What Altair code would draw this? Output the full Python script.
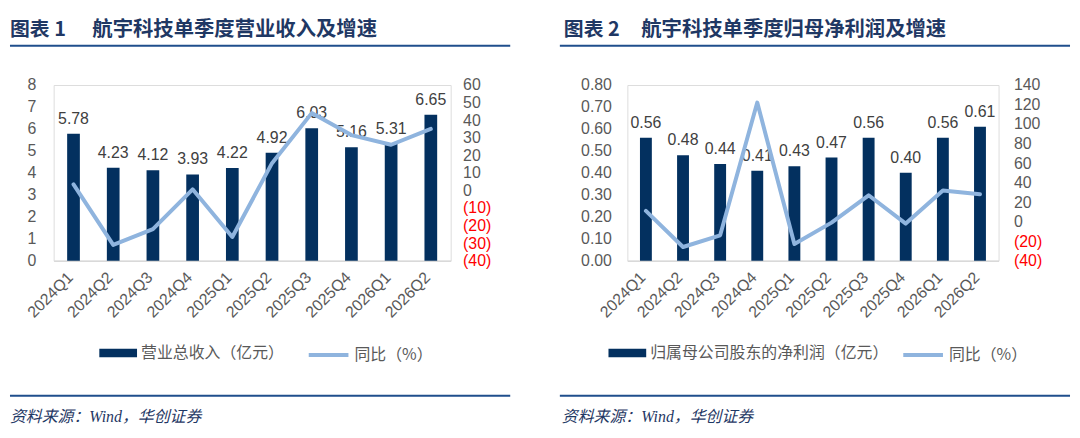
import altair as alt
import pandas as pd

quarters = ["2024Q1", "2024Q2", "2024Q3", "2024Q4", "2025Q1",
            "2025Q2", "2025Q3", "2025Q4", "2026Q1", "2026Q2"]
revenue = [5.78, 4.23, 4.12, 3.93, 4.22, 4.92, 6.03, 5.16, 5.31, 6.65]
revenue_yoy = [3.4, -31.0, -22.0, 0.6, -26.5, 15.5, 44.0, 31.5, 26.0, 35.0]
profit = [0.56, 0.48, 0.44, 0.41, 0.43, 0.47, 0.56, 0.40, 0.56, 0.61]
profit_yoy = [11.0, -26.0, -14.0, 122.0, -23.0, -1.0, 27.0, -2.0, 32.0, 28.0]

rev_ticks = [0, 1, 2, 3, 4, 5, 6, 7, 8]
rev_yoy_ticks = [-40, -30, -20, -10, 0, 10, 20, 30, 40, 50, 60]
profit_ticks = [0.0, 0.1, 0.2, 0.3, 0.4, 0.5, 0.6, 0.7, 0.8]
profit_yoy_ticks = [-40, -20, 0, 20, 40, 60, 80, 100, 120, 140]

NAVY = "#03305F"
LIGHT = "#8FB4DE"
GRAY = "#595959"
TITLE_C = "#1F3864"
RULE_C = "#1F4E8C"
CJK = "Noto Sans CJK SC"
NUM = "Liberation Sans"


def panel(values, yoy, ticks, yoy_ticks, fmt, axis_fmt, bar_name, no_text, title_text,
          width, g):
    df = pd.DataFrame({"q": quarters, "v": values, "g": yoy,
                       "lab": [fmt.format(v) for v in values]})
    base = alt.Chart(df)
    x = alt.X("q:N", sort=quarters, title=None,
              scale=alt.Scale(paddingInner=0.68, paddingOuter=0.34),
              axis=alt.Axis(labelAngle=-45, labelAlign="right", labelBaseline="middle",
                            labelFontSize=16, labelFont=NUM, labelColor=GRAY,
                            domainColor="#D9D9D9", domainWidth=1.5, ticks=False,
                            tickSize=0, labelPadding=14, labelOffset=-3, grid=False))
    ydom = [ticks[0], ticks[-1]]
    yscale = alt.Scale(domain=ydom, nice=False, zero=True)

    bars = base.mark_bar().encode(
        x=x,
        y=alt.Y("v:Q", title=None, scale=yscale,
                axis=alt.Axis(orient="left", values=ticks, format=axis_fmt, grid=False,
                              domain=False, ticks=False, tickSize=0, labelPadding=g["lpad"],
                              labelFont=NUM, labelFontSize=16, labelColor=GRAY)),
        color=alt.Color("s:N", scale=alt.Scale(domain=[bar_name], range=[NAVY]),
                        legend=alt.Legend(orient="none", legendX=g["lx1"], legendY=g["ly"] - 19,
                                          title=None, padding=0, labelLimit=0,
                                          symbolType="M-1,-0.22H1V0.22H-1Z", symbolSize=1444,
                                          symbolStrokeWidth=0, labelFont=CJK,
                                          labelFontSize=16, labelColor=GRAY, labelOffset=4)),
    ).transform_calculate(s="'" + bar_name + "'")

    labels = base.mark_text(baseline="bottom", dy=-7, font=NUM, fontSize=16,
                            color="#404040").encode(
        x=x, y=alt.Y("v:Q", scale=yscale, axis=None), text="lab:N")

    yoy_name = "同比（%）"
    line = base.mark_line(strokeWidth=4, strokeJoin="round", strokeCap="round").encode(
        x=x,
        y=alt.Y("g:Q", title=None,
                scale=alt.Scale(domain=[yoy_ticks[0], yoy_ticks[-1]], nice=False, zero=False),
                axis=alt.Axis(orient="right", values=yoy_ticks, grid=False, domain=False,
                              ticks=False, tickSize=0, labelPadding=g["rpad"],
                              labelFont=NUM, labelFontSize=16,
                              labelExpr="datum.value < 0 ? '(' + (-datum.value) + ')' : datum.label",
                              labelColor={"condition": {"test": "datum.value < 0",
                                                        "value": "#FF0000"},
                                          "value": GRAY})),
        color=alt.Color("s2:N", scale=alt.Scale(domain=[yoy_name], range=[LIGHT]),
                        legend=alt.Legend(orient="none", legendX=g["lx2"], legendY=g["ly"] - 20,
                                          title=None, padding=0, labelLimit=0,
                                          symbolType="stroke",
                                          symbolSize=1600, symbolStrokeWidth=4,
                                          labelFont=CJK, labelFontSize=16, labelColor=GRAY,
                                          labelOffset=4)),
    ).transform_calculate(s2="'" + yoy_name + "'")

    one = alt.Data(values=[{"a": 1}])
    top_rule = alt.Chart(one).mark_rule(color=RULE_C, strokeWidth=2).encode(
        x=alt.value(g["rx1"]), x2=alt.value(g["rx2"]), y=alt.value(-39.5))
    bottom_rule = alt.Chart(one).mark_rule(color=RULE_C, strokeWidth=2).encode(
        x=alt.value(g["rx1"]), x2=alt.value(g["rx2"]), y=alt.value(313))
    t_no = alt.Chart(one).mark_text(align="left", baseline="middle", font=CJK, fontSize=20,
                                    fontWeight="bold", color=TITLE_C).encode(
        x=alt.value(g["tx1"]), y=alt.value(-55), text=alt.value(no_text))
    t_main = alt.Chart(one).mark_text(align="left", baseline="middle", font=CJK, fontSize=20.5,
                                      fontWeight="bold", color=TITLE_C).encode(
        x=alt.value(g["tx2"]), y=alt.value(-55), text=alt.value(title_text))
    footer = alt.Chart(one).mark_text(align="left", baseline="middle",
                                      font="Liberation Serif, Noto Sans CJK SC", fontSize=16,
                                      fontStyle="italic", color=TITLE_C).encode(
        x=alt.value(g["fx"]), y=alt.value(335), text=alt.value("资料来源：Wind，华创证券"))

    return alt.layer(bars, labels, line, top_rule, bottom_rule, t_no, t_main, footer).resolve_scale(
        y="independent", color="independent").properties(width=width, height=177)


left = panel(revenue, revenue_yoy, rev_ticks, rev_yoy_ticks, "{:.2f}", "d",
             "营业总收入（亿元）", "图表  1", "航宇科技单季度营业收入及增速", 400,
             {"lpad": 18, "rpad": 12, "lx1": 46, "lx2": 255, "ly": 270,
              "rx1": -44, "rx2": 460, "tx1": -44, "tx2": 39, "fx": -44})
right = panel(profit, profit_yoy, profit_ticks, profit_yoy_ticks, "{:.2f}", ".2f",
              "归属母公司股东的净利润（亿元）", "图表  2", "航宇科技单季度归母净利润及增速", 374,
              {"lpad": 16, "rpad": 15, "lx1": -19, "lx2": 276, "ly": 270,
               "rx1": -68, "rx2": 446, "tx1": -64, "tx2": 14, "fx": -66})

chart = alt.hconcat(left, right, spacing=46).properties(
    padding={"left": 0, "top": 10, "right": 0, "bottom": 0}
).configure_view(stroke=None).configure(background="white")

chart.save("out.html", embed_options={"renderer": "svg", "actions": False})
